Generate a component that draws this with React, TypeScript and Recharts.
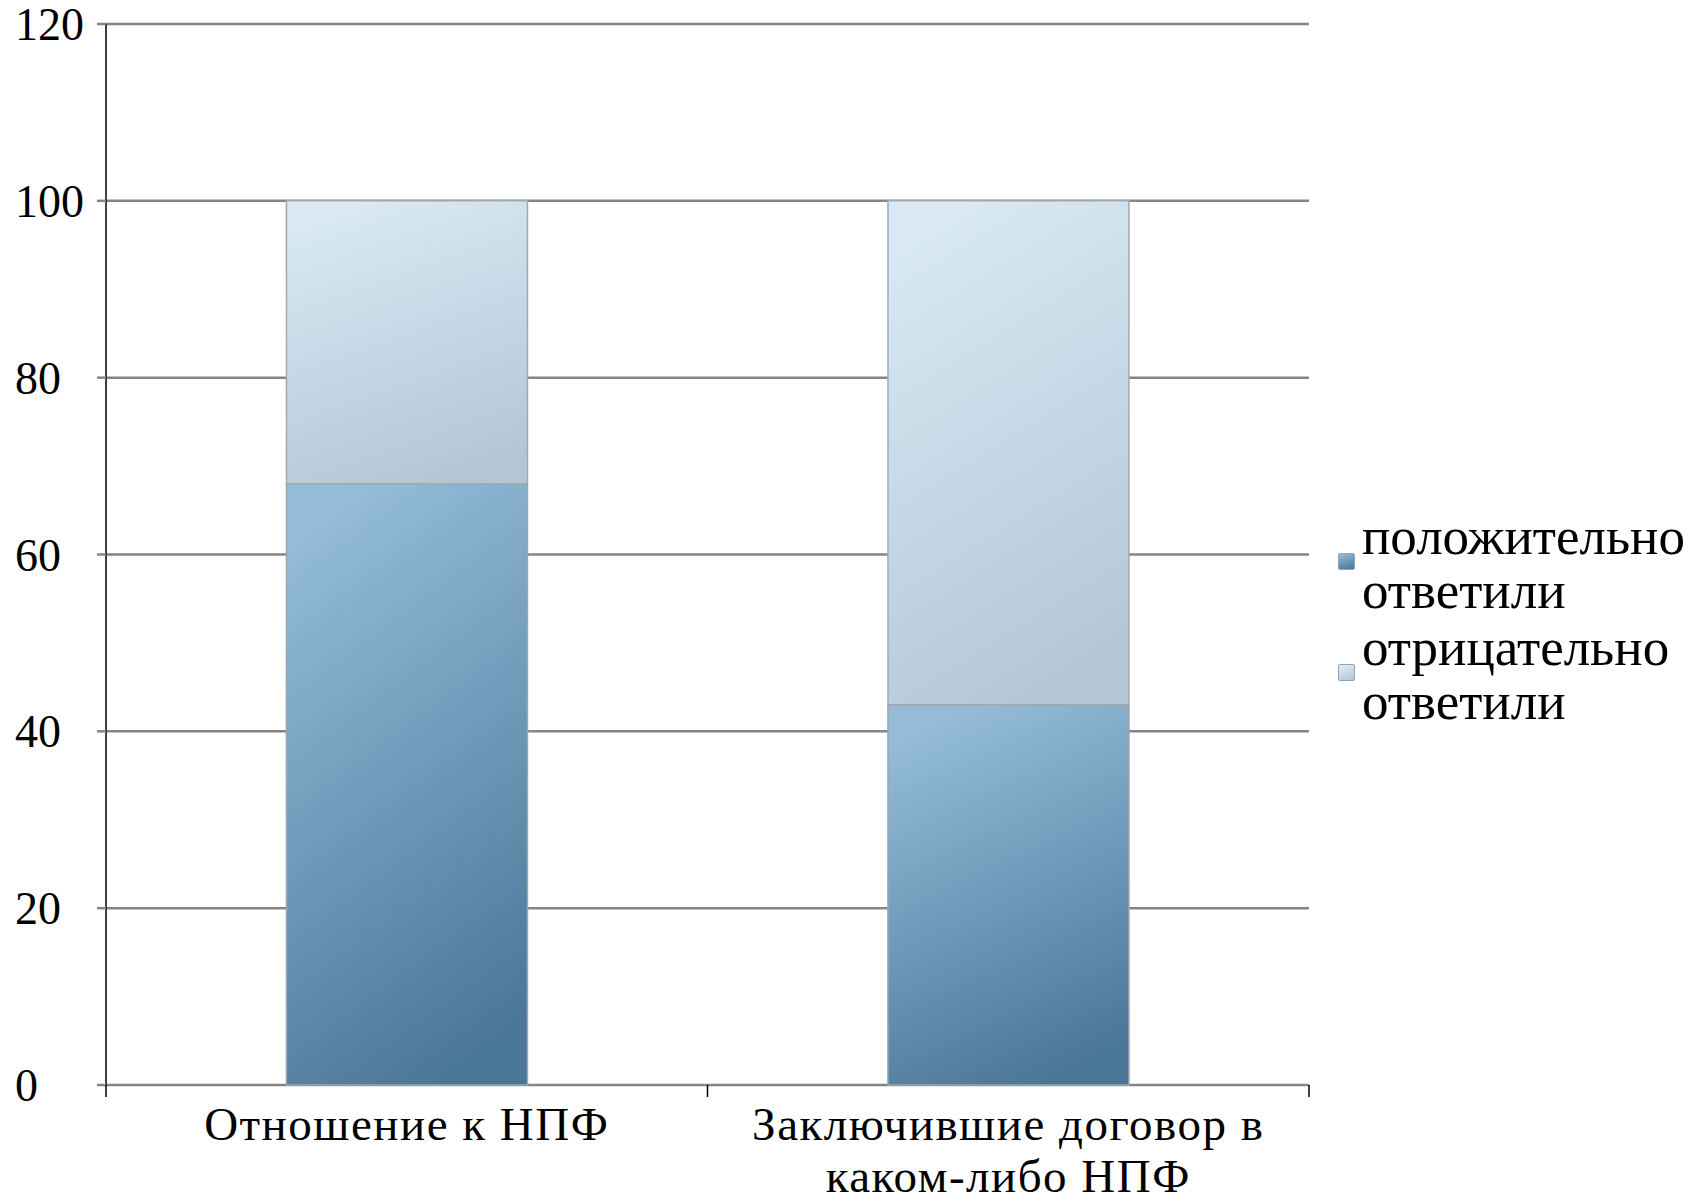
import React from 'react';
import { BarChart, Bar, XAxis, YAxis, CartesianGrid, Legend } from 'recharts';

const categories = ['Отношение к НПФ', 'Заключившие договор в каком-либо НПФ'];
const positiveValues = [68, 43];
const negativeValues = [32, 57];
const seriesNames = ['положительно ответили', 'отрицательно ответили'];
const yTicks = [0, 20, 40, 60, 80, 100, 120];

const data = categories.map((c, i) => ({
  name: c,
  pos: positiveValues[i],
  neg: negativeValues[i],
}));

const FONT = '"Liberation Serif", "DejaVu Serif", serif';
const W = 1692;
const H = 1203;
const MARGIN = { top: 24, right: 383, bottom: 0, left: 0 };
const Y_AXIS_W = 106;
const X_AXIS_H = 118;
const PLOT_W = W - MARGIN.left - MARGIN.right - Y_AXIS_W;
const BAND = PLOT_W / categories.length;

function wrap(text: string, maxChars: number): string[] {
  const words = text.split(' ');
  const lines: string[] = [];
  let cur = '';
  for (const w of words) {
    const next = cur ? cur + ' ' + w : w;
    if (next.length > maxChars && cur) {
      lines.push(cur);
      cur = w;
    } else {
      cur = next;
    }
  }
  if (cur) lines.push(cur);
  return lines;
}

const XTick = (props: any) => {
  const { x, y, payload, index } = props;
  const lines = wrap(String(payload.value), 21);
  return (
    <g>
      <line x1={x - BAND / 2} x2={x - BAND / 2} y1={y} y2={y + 12} stroke="#000" strokeWidth={1.5} />
      {index === categories.length - 1 && (
        <line x1={x + BAND / 2} x2={x + BAND / 2} y1={y} y2={y + 12} stroke="#000" strokeWidth={1.5} />
      )}
      <text x={x} y={y + 55} textAnchor="middle" fontFamily={FONT} fontSize={47} letterSpacing={1.5} fill="#000">
        {lines.map((l, i) => (
          <tspan key={i} x={x} dy={i === 0 ? 0 : 52}>
            {l}
          </tspan>
        ))}
      </text>
    </g>
  );
};

const YTick = (props: any) => {
  const { y, payload } = props;
  return (
    <text x={15} y={y + 16} textAnchor="start" fontFamily={FONT} fontSize={46} fill="#000">
      {payload.value}
    </text>
  );
};

const swatches: Record<string, string> = {
  pos: 'linear-gradient(160deg, #93bcd9, #4a7697)',
  neg: 'linear-gradient(160deg, #e0eef8, #b4c6d4)',
};

const LegendContent = (props: any) => {
  const { payload } = props;
  return (
    <div style={{ fontFamily: FONT, fontSize: 53, lineHeight: '54px', color: '#000' }}>
      {(payload || []).map((p: any, i: number) => (
        <div key={i} style={{ position: 'relative', paddingLeft: 26, marginBottom: 3, whiteSpace: 'nowrap' }}>
          <span
            style={{
              position: 'absolute',
              left: 2,
              top: 44,
              width: 15,
              height: 15,
              background: swatches[p.dataKey] || p.color,
              border: '1px solid #8fa3b3',
              borderRadius: 2,
            }}
          />
          {String(p.value)
            .split(' ')
            .map((l: string, j: number) => (
              <div key={j}>{l}</div>
            ))}
        </div>
      ))}
    </div>
  );
};

export default function App() {
  return (
    <div style={{ position: 'absolute', left: 0, top: 0, width: W, height: H, background: '#fff' }}>
      <BarChart width={W} height={H} data={data} margin={MARGIN} barCategoryGap="30%">
        <defs>
          <linearGradient id="gPos" x1="0.35" y1="0" x2="0.65" y2="1">
            <stop offset="0%" stopColor="#94bcd9" />
            <stop offset="100%" stopColor="#4a7697" />
          </linearGradient>
          <linearGradient id="gNeg" x1="0.35" y1="0" x2="0.65" y2="1">
            <stop offset="0%" stopColor="#d8e9f5" />
            <stop offset="100%" stopColor="#b4c6d4" />
          </linearGradient>
        </defs>
        <CartesianGrid vertical={false} stroke="#858585" strokeWidth={2.5} />
        <XAxis
          dataKey="name"
          axisLine={false}
          tickLine={false}
          tickSize={0}
          tickMargin={0}
          height={X_AXIS_H}
          interval={0}
          tick={<XTick />}
        />
        <YAxis
          domain={[0, 120]}
          ticks={yTicks}
          width={Y_AXIS_W}
          axisLine={{ stroke: '#000', strokeWidth: 1.5 }}
          tickLine={{ stroke: '#858585', strokeWidth: 2.5 }}
          tickSize={9}
          tick={<YTick />}
          interval={0}
        />
        <Bar dataKey="pos" name={seriesNames[0]} stackId="a" fill="url(#gPos)" stroke="#9aa6b0" strokeWidth={1.5} isAnimationActive={false} />
        <Bar dataKey="neg" name={seriesNames[1]} stackId="a" fill="url(#gNeg)" stroke="#a2a8ad" strokeWidth={1.5} isAnimationActive={false} />
        <Legend
          layout="horizontal"
          align="center"
          verticalAlign="middle"
          itemSorter={(item: any) => seriesNames.indexOf(item.value)}
          content={<LegendContent />}
          wrapperStyle={{ position: 'absolute', left: 1336, top: 509, width: 356 }}
        />
      </BarChart>
    </div>
  );
}
